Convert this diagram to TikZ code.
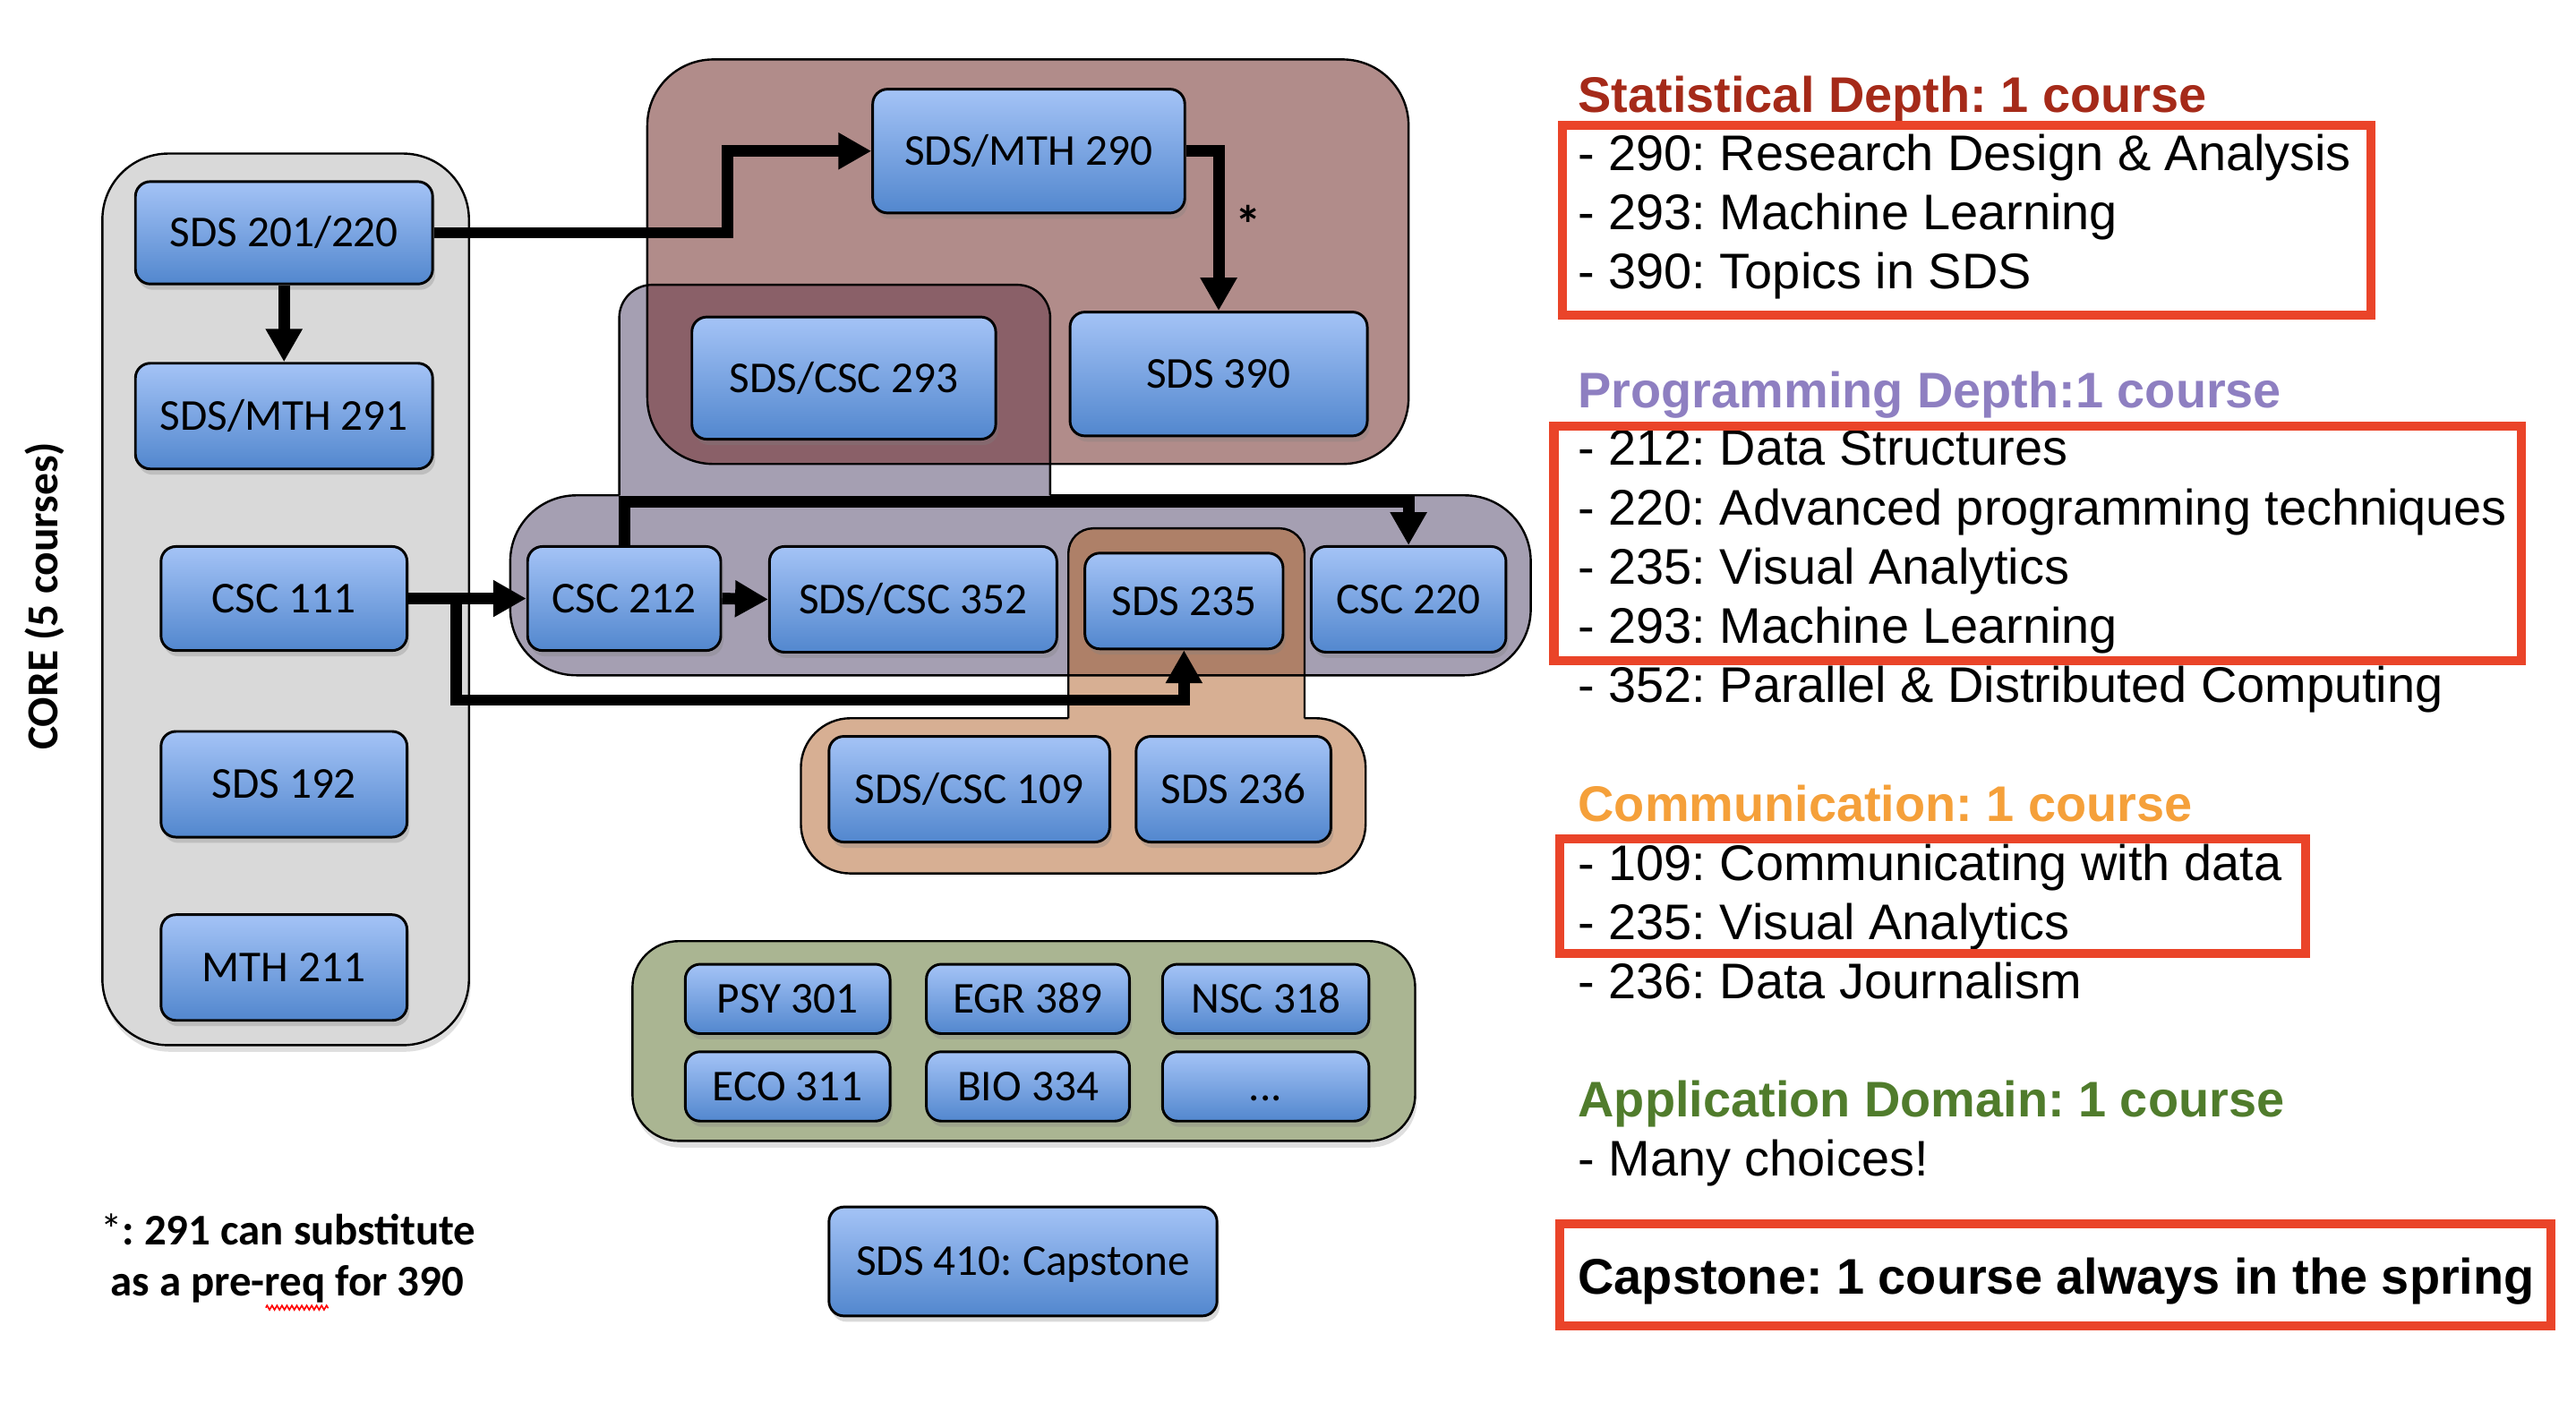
\documentclass[tikz,border=0pt]{standalone}
\usepackage{fontspec}
\setmainfont{Liberation Sans}
\newfontfamily\calibri{Carlito}
\usetikzlibrary{arrows.meta,shadows,decorations.pathmorphing}
\definecolor{grayg}{HTML}{D9D9D9}
\definecolor{brownb}{HTML}{B18C8A}
\definecolor{purpleb}{HTML}{A59FB2}
\definecolor{ovlA}{HTML}{8A6068}
\definecolor{orangeb}{HTML}{D7AF93}
\definecolor{ovlB}{HTML}{AE8068}
\definecolor{greenb}{HTML}{AAB592}
\definecolor{blueTop}{HTML}{A4C3F6}
\definecolor{blueBot}{HTML}{5287CE}
\definecolor{hdred}{HTML}{A52A19}
\definecolor{hdpurple}{HTML}{8E7FC1}
\definecolor{hdorange}{HTML}{F5A03A}
\definecolor{hdgreen}{HTML}{507C2C}
\definecolor{boxred}{HTML}{EA4429}
\frenchspacing
\begin{document}
\begin{tikzpicture}[x=1pt,y=-1pt,
  course/.style={rectangle, rounded corners=9pt, draw=black, line width=1.6pt,
    top color=blueTop, bottom color=blueBot,
    drop shadow={shadow xshift=1.5pt, shadow yshift=-3.5pt, opacity=0.3},
    font=\calibri\fontsize{26.7}{30}\selectfont, inner sep=0pt,
    text height=17.2pt, text depth=0pt, text=black},
  grp/.style={draw=black, line width=1.3pt},
  grpshadow/.style={drop shadow={shadow xshift=1pt, shadow yshift=-4pt, opacity=0.25}},
  arr/.style={line width=7pt, -{Triangle[length=20pt,width=21pt]}},
  rtext/.style={anchor=base west, inner sep=0pt, font=\fontsize{30.3}{34}\selectfont},
  rhead/.style={anchor=base west, inner sep=0pt, font=\bfseries\fontsize{30.3}{34}\selectfont},
  redbox/.style={draw=boxred, line width=5.5pt},
]
\useasboundingbox (0,0) rectangle (1560,859.4);

% ---------- group backgrounds ----------
\draw[grp, fill=grayg, rounded corners=40pt, grpshadow] (62,93) rectangle (284,633);

% programming (purple) fill
\fill[purpleb, rounded corners=20pt] (375,172.5) rectangle (636,340);
\fill[purpleb, rounded corners=40pt] (309,300) rectangle (927,409);
% statistical (brown) fill
\fill[brownb, rounded corners=40pt] (392,36) rectangle (853,281);
\begin{scope}
  \clip[rounded corners=40pt] (392,36) rectangle (853,281);
  \fill[ovlA, rounded corners=20pt] (375,172.5) rectangle (636,340);
\end{scope}
% communication (orange) fill
\fill[orangeb, rounded corners=15pt] (647,320) rectangle (790,470);
\fill[orangeb, rounded corners=30pt] (485,435) rectangle (827,529);
\begin{scope}
  \clip[rounded corners=40pt] (309,300) rectangle (927,409);
  \fill[ovlB, rounded corners=15pt] (647,320) rectangle (790,470);
\end{scope}
% outlines
\draw[grp, rounded corners=20pt] (375,300) -- (375,172.5) -- (636,172.5) -- (636,300);
\draw[grp, rounded corners=40pt] (636,300) -- (927,300) -- (927,409) -- (309,409) -- (309,300) -- (375,300);
\draw[grp, rounded corners=40pt] (392,36) rectangle (853,281);
\draw[grp, rounded corners=15pt] (647,435) -- (647,320) -- (790,320) -- (790,435);
\draw[grp, rounded corners=30pt] (790,435) -- (827,435) -- (827,529) -- (485,529) -- (485,435) -- (647,435);

% application (green)
\draw[grp, fill=greenb, rounded corners=28pt, grpshadow] (383,570) rectangle (857,691);

% ---------- course nodes ----------
\node[course, minimum width=180pt, minimum height=62pt] (s201) at (172,141) {SDS 201/220};
\node[course, minimum width=180pt, minimum height=64pt] (s291) at (172,252) {SDS/MTH 291};
\node[course, minimum width=149pt, minimum height=63pt] (c111) at (172,362.5) {CSC 111};
\node[course, minimum width=149pt, minimum height=64pt] (s192) at (172,475) {SDS 192};
\node[course, minimum width=149pt, minimum height=64pt] (m211) at (172,586) {MTH 211};

\node[course, minimum width=189pt, minimum height=75pt] (s290) at (623,91.5) {SDS/MTH 290};
\node[course, minimum width=180pt, minimum height=75pt] (s390) at (738,226.5) {SDS 390};
\node[course, minimum width=184pt, minimum height=74pt] (s293) at (511,229) {SDS/CSC 293};

\node[course, minimum width=117pt, minimum height=63pt] (c212) at (378,362.5) {CSC 212};
\node[course, minimum width=174pt, minimum height=64pt] (s352) at (553,363) {SDS/CSC 352};
\node[course, minimum width=120pt, minimum height=58pt] (s235) at (717,364) {SDS 235};
\node[course, minimum width=118pt, minimum height=64pt] (c220) at (853,363) {CSC 220};

\node[course, minimum width=170pt, minimum height=64pt] (s109) at (587,478) {SDS/CSC 109};
\node[course, minimum width=118pt, minimum height=64pt] (s236) at (747,478) {SDS 236};

\node[course, minimum width=124pt, minimum height=42pt] (psy) at (477,605) {PSY 301};
\node[course, minimum width=123pt, minimum height=42pt] (egr) at (622.5,605) {EGR 389};
\node[course, minimum width=125pt, minimum height=42pt] (nsc) at (766.5,605) {NSC 318};
\node[course, minimum width=124pt, minimum height=42pt] (eco) at (477,658) {ECO 311};
\node[course, minimum width=123pt, minimum height=42pt] (bio) at (622.5,658) {BIO 334};
\node[course, minimum width=125pt, minimum height=42pt] (dots) at (766.5,658) {...};

\node[course, minimum width=235pt, minimum height=66pt] (cap) at (619.5,764) {SDS 410: Capstone};

% ---------- arrows ----------
\draw[arr] (s201.east) -- ++(178,0) |- (s290.west);
\draw[arr] (s201.south) -- (s291.north);
\draw[arr] (c111.east) -- (c212.west);
\draw[arr] (c111.east) -- ++(29,0) -- ++(0,61.5) -| (s235.south);
\draw[arr] (c212.east) -- (s352.west);
\draw[arr] (c212.north) -- ++(0,-26.5) -| (c220.north);
\draw[arr] (s290.east) -| (s390.north);
\node[font=\calibri\bfseries\fontsize{32}{34}\selectfont, inner sep=0pt] (star) at (756,136) {*};

% ---------- left labels ----------
\node[rotate=90, font=\calibri\bfseries\fontsize{26.8}{30}\selectfont, inner sep=0pt] (core) at (27,361) {CORE (5 courses)};
\node[anchor=base, inner sep=0pt, font=\calibri\fontsize{26.5}{30}\selectfont] (fn1) at (174.5,754) {*\textbf{: 291 can substitute}};
\node[anchor=base, inner sep=0pt, font=\calibri\bfseries\fontsize{26.5}{30}\selectfont] (fn2) at (174,785) {as a pre-req for 390};
\draw[red, line width=0.9pt, decorate, decoration={zigzag, amplitude=1.3pt, segment length=3pt}] (161,792) -- (199,792);

% ---------- right side ----------
\node[rhead, text=hdred] (h1) at (955.5,68) {Statistical Depth: 1 course};
\node[rtext] (l11) at (955.5,103.5) {- 290: Research Design \& Analysis};
\node[rtext] (l12) at (955.5,139) {- 293: Machine Learning};
\node[rtext] (l13) at (955.5,174.6) {- 390: Topics in SDS};
\draw[redbox] (946,76) rectangle (1436,191);

\node[rhead, text=hdpurple] (h2) at (955.5,247) {Programming Depth:1 course};
\node[rtext] (l21) at (955.5,281.7) {- 212: Data Structures};
\node[rtext] (l22) at (955.5,317.8) {- 220: Advanced programming techniques};
\node[rtext] (l23) at (955.5,353.7) {- 235: Visual Analytics};
\node[rtext] (l24) at (955.5,389.5) {- 293: Machine Learning};
\node[rtext] (l25) at (955.5,425.5) {- 352: Parallel \& Distributed Computing};
\draw[redbox] (941,258) rectangle (1527,400);

\node[rhead, text=hdorange] (h3) at (955.5,497.5) {Communication: 1 course};
\node[rtext] (l31) at (955.5,533.5) {- 109: Communicating with data};
\node[rtext] (l32) at (955.5,569) {- 235: Visual Analytics};
\node[rtext] (l33) at (955.5,604.7) {- 236: Data Journalism};
\draw[redbox] (944.7,508) rectangle (1396,577.4);

\node[rhead, text=hdgreen] (h4) at (955.5,676.6) {Application Domain: 1 course};
\node[rtext] (l41) at (955.5,712) {- Many choices!};

\node[rhead] (capt) at (955.5,784) {Capstone: 1 course always in the spring};
\draw[redbox] (944.7,741) rectangle (1545,803);
\end{tikzpicture}
\end{document}
